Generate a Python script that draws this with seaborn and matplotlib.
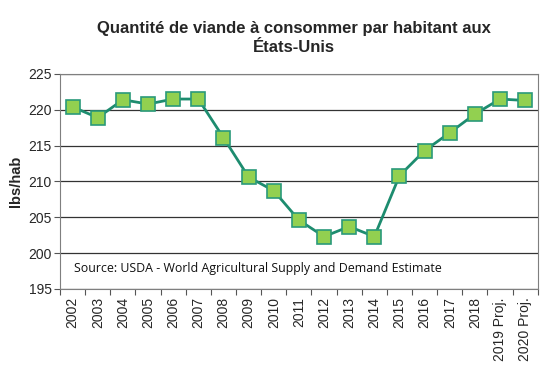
import matplotlib
matplotlib.use("Agg")
import matplotlib.pyplot as plt
import seaborn as sns
import numpy as np
import pandas as pd

years = ["2002", "2003", "2004", "2005", "2006", "2007", "2008", "2009", "2010",
         "2011", "2012", "2013", "2014", "2015", "2016", "2017", "2018",
         "2019 Proj.", "2020 Proj."]
values = [220.4, 218.9, 221.4, 220.8, 221.5, 221.5, 216.1, 210.6, 208.7,
          204.6, 202.3, 203.7, 202.3, 210.8, 214.3, 216.8, 219.4, 221.5, 221.3]
yticks = [195, 200, 205, 210, 215, 220, 225]

sns.set_theme(style="white")
plt.rcParams['font.family'] = ['Liberation Sans', 'DejaVu Sans']

df = pd.DataFrame({"idx": np.arange(len(years)), "val": values})

fig = plt.figure(figsize=(5.51, 3.68), dpi=100)
ax = fig.add_axes([0.109, 0.215, 0.867, 0.584])

sns.lineplot(data=df, x="idx", y="val", ax=ax, color="#1d8c6f", linewidth=2,
             marker="s", markersize=9.5, markerfacecolor="#92d050",
             markeredgecolor="#2a9a7a", markeredgewidth=1.2, zorder=3)

ax.set_ylim(195, 225)
ax.set_yticks(yticks)
ax.set_xlim(-0.5, len(years) - 0.5)
ax.set_xticks(np.arange(len(years)))
ax.set_xticklabels(years, rotation=90, fontsize=10)
ax.set_xticks(np.arange(len(years) + 1) - 0.5, minor=True)
ax.tick_params(axis='x', which='major', length=0, pad=6)
ax.tick_params(axis='x', which='minor', length=4, width=0.8, color="#555555", direction="out", bottom=True)
ax.tick_params(axis='y', labelsize=10, length=4, width=0.8, color="#555555", direction="out", left=True, pad=2)
for s in ax.spines.values():
    s.set_color("#7f7f7f")
    s.set_linewidth(0.8)
ax.grid(axis='y', color="#333333", linewidth=0.9)
ax.set_axisbelow(True)
ax.set_xlabel("")
ax.set_ylabel("lbs/hab", fontsize=10.5, fontweight="bold", labelpad=4)

ax.text(0.03, 0.095, "Source: USDA - World Agricultural Supply and Demand Estimate",
        transform=ax.transAxes, fontsize=8.9, family=["Open Sans", "DejaVu Sans"],
        color="#111111", va="center")

fig.text(0.533, 0.897, "Quantité de viande à consommer par habitant aux\nÉtats-Unis",
         ha="center", va="center", fontsize=12, fontweight="bold", linespacing=1.3)

fig.savefig("out.png", dpi=100)
